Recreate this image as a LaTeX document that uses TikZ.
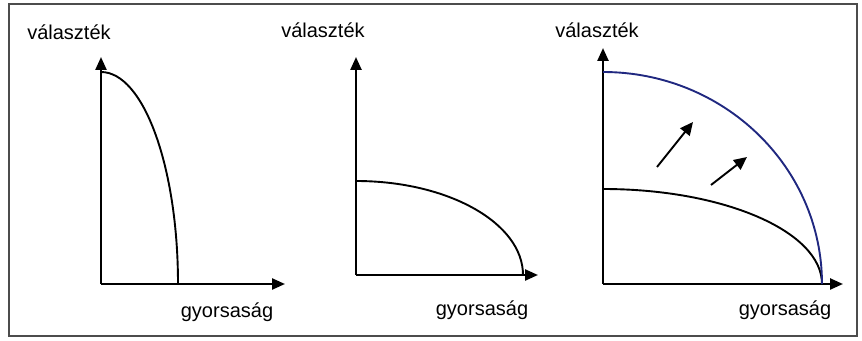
\documentclass[tikz,border=0pt]{standalone}
\usepackage{fontspec}
\setmainfont{Liberation Sans}
\usetikzlibrary{arrows.meta}

\begin{document}
\begin{tikzpicture}[x=1pt, y=1pt,
    font=\fontsize{20}{24}\selectfont,
    axis/.style={line width=2.4pt, -{Triangle[length=13pt, width=11pt]}},
    ppf/.style={line width=1.9pt},
    shift arrow/.style={line width=1.9pt, -{Triangle[length=13pt, width=12pt]}}]

% Define Colors
\colorlet{frameColor}{black!70}
\definecolor{newColor}{RGB}{32,40,128}

% --- FRAME ---
\useasboundingbox (0,0) rectangle (862,340);
\draw[frameColor, line width=1.3pt] (9,4) rectangle (857,336);

% --- PANEL 1: steep curve ---
    \begin{scope}[shift={(101,56)}]
    \coordinate (o1) at (0,0);
    \coordinate (ytip1) at (0,227);
    \coordinate (xtip1) at (184,0);
    \coordinate (top1) at (0,212);
    \draw[axis] (o1) -- (ytip1);
    \draw[axis] (o1) -- (xtip1);
    \draw[ppf] (top1) arc[start angle=90, end angle=0, x radius=77, y radius=212];
    \node (valaszt1) at (-32,252) {választék};
    \node (gyors1) at (126,-28) {gyorsaság};
    \end{scope}

% --- PANEL 2: flat curve ---
    \begin{scope}[shift={(356,65)}]
    \coordinate (o2) at (0,0);
    \coordinate (ytip2) at (0,218);
    \coordinate (xtip2) at (182,0);
    \coordinate (top2) at (0,94);
    \draw[axis] (o2) -- (ytip2);
    \draw[axis] (o2) -- (xtip2);
    \draw[ppf] (top2) arc[start angle=90, end angle=0, x radius=167, y radius=94];
    \node (valaszt2) at (-33,245) {választék};
    \node (gyors2) at (126,-35) {gyorsaság};
    \end{scope}

% --- PANEL 3: curve moves outwards ---
    \begin{scope}[shift={(603,56)}]
    \coordinate (o3) at (0,0);
    \coordinate (ytip3) at (0,236);
    \coordinate (xtip3) at (240,0);
    \coordinate (top3) at (0,95);
    \coordinate (topnew) at (0,212);
    \draw[axis] (o3) -- (ytip3);
    \draw[axis] (o3) -- (xtip3);
    \draw[ppf] (top3) arc[start angle=90, end angle=0, x radius=219, y radius=95];
    \draw[ppf, newColor] (topnew) arc[start angle=90, end angle=0, x radius=219, y radius=212];

% the two shift arrows
    \coordinate (sa1) at (54,117);
    \coordinate (ea1) at (90,162);
    \coordinate (sa2) at (108,99);
    \coordinate (ea2) at (144,127);
    \draw[shift arrow] (sa1) -- (ea1);
    \draw[shift arrow] (sa2) -- (ea2);

    \node (valaszt3) at (-6,254) {választék};
    \node (gyors3) at (182,-26) {gyorsaság};
    \end{scope}

\end{tikzpicture}
\end{document}
